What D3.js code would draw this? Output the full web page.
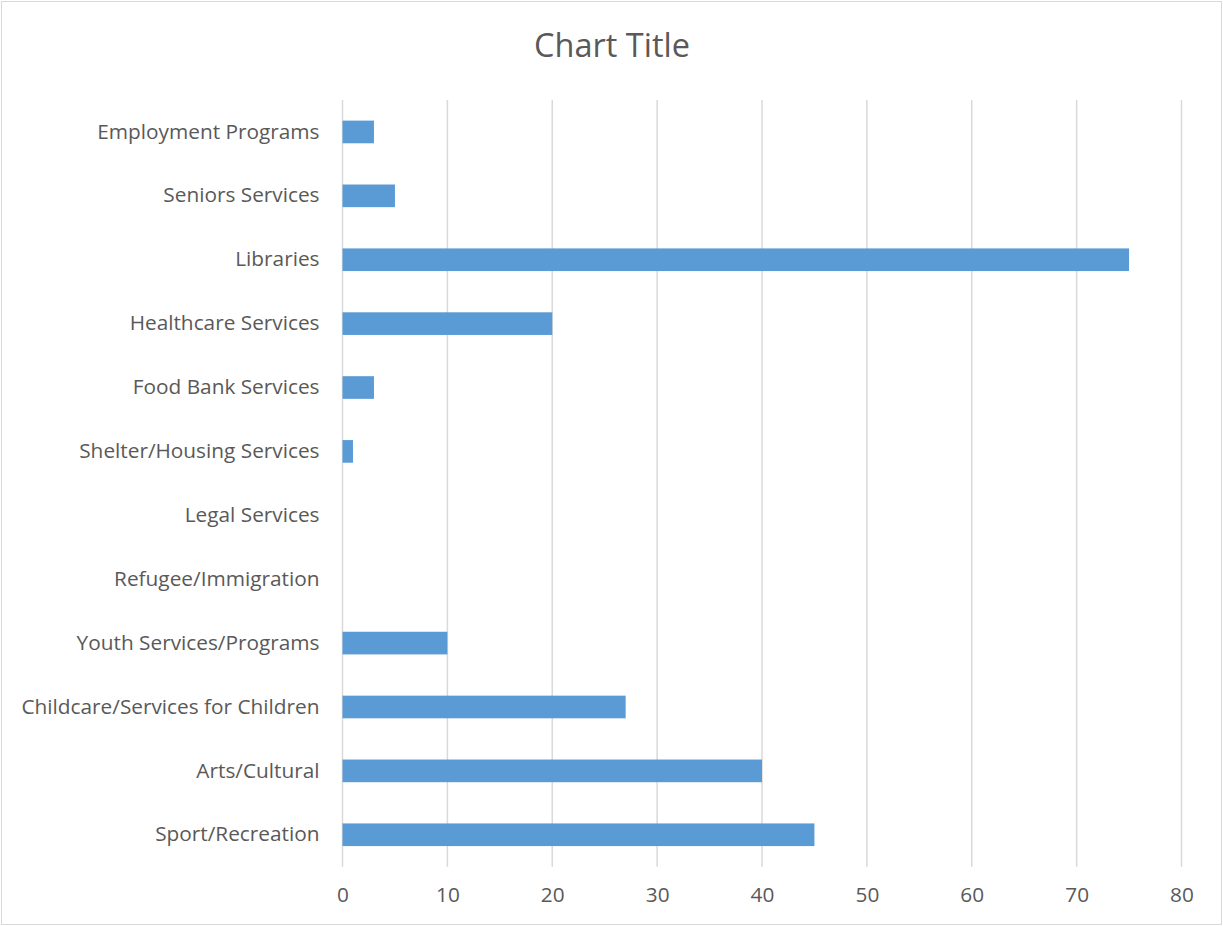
<!DOCTYPE html>
<html>
<head>
<meta charset="utf-8">
<script src="https://cdn.jsdelivr.net/npm/d3@7"></script>
<style>
  html, body { margin: 0; padding: 0; background: #fff; }
  svg { display: block; }
  text { font-family: "Open Sans", "Noto Sans", sans-serif; fill: #595959; }
</style>
</head>
<body>
<svg id="chart" width="1223" height="926"></svg>
<script>
const categories = [
  "Employment Programs",
  "Seniors Services",
  "Libraries ",
  "Healthcare Services",
  "Food Bank Services",
  "Shelter/Housing Services",
  "Legal Services",
  "Refugee/Immigration",
  "Youth Services/Programs",
  "Childcare/Services for Children",
  "Arts/Cultural",
  "Sport/Recreation"
];
const values = [3, 5, 75, 20, 3, 1, 0, 0, 10, 27, 40, 45];
const xTicks = [0, 10, 20, 30, 40, 50, 60, 70, 80];
const title = "Chart Title";

const W = 1223, H = 926;
const margin = { left: 342.5, right: W - 1181.5, top: 100, bottom: H - 866.7 };
const svg = d3.select("#chart");

svg.append("rect")
  .attr("x", 1.5).attr("y", 1.5)
  .attr("width", W - 3).attr("height", H - 3)
  .attr("fill", "#fff").attr("stroke", "#d9d9d9").attr("stroke-width", 1);

const x = d3.scaleLinear().domain([0, 80]).range([margin.left, W - margin.right]);
const y = d3.scaleBand().domain(categories).range([margin.top, H - margin.bottom]).paddingInner(0).paddingOuter(0);

// gridlines
svg.append("g").selectAll("line").data(xTicks).join("line")
  .attr("x1", d => x(d)).attr("x2", d => x(d))
  .attr("y1", margin.top).attr("y2", H - margin.bottom)
  .attr("stroke", "#d9d9d9").attr("stroke-width", 1.5);

// bars
const barH = y.bandwidth() / 2.82;
svg.append("g").selectAll("rect").data(values).join("rect")
  .attr("x", x(0))
  .attr("y", (d, i) => y(categories[i]) + (y.bandwidth() - barH) / 2)
  .attr("width", d => x(d) - x(0))
  .attr("height", barH)
  .attr("fill", "#5b9bd5");

// y axis labels
const yAxis = d3.axisLeft(y).tickSize(0).tickPadding(23);
const gy = svg.append("g").attr("transform", `translate(${x(0)},0)`).call(yAxis);
gy.select(".domain").remove();
gy.selectAll("text").attr("font-size", 20.8).style("font-family", '"Open Sans", sans-serif').attr("fill", "#595959");

// x axis labels
const xAxis = d3.axisBottom(x).tickValues(xTicks).tickSize(0).tickPadding(21);
const gx = svg.append("g").attr("transform", `translate(0,${H - margin.bottom})`).call(xAxis);
gx.select(".domain").remove();
gx.selectAll("text").attr("font-size", 20.8).style("font-family", '"Open Sans", sans-serif').attr("fill", "#595959");

// title
svg.append("text")
  .attr("x", 612).attr("y", 57)
  .attr("text-anchor", "middle")
  .attr("font-size", 32.5)
  .attr("fill", "#595959")
  .text(title);
</script>
</body>
</html>
